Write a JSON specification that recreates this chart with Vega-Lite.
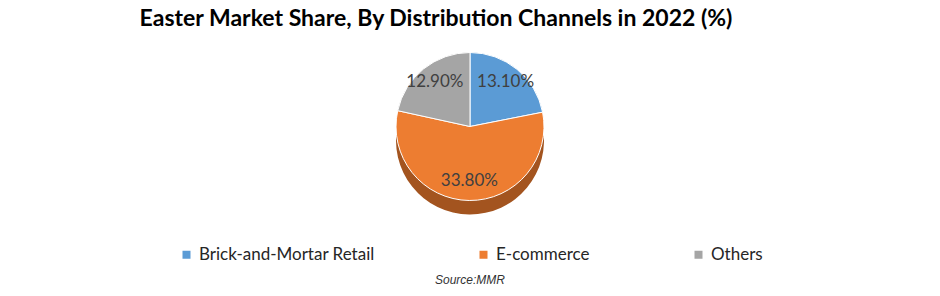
{
  "$schema": "https://vega.github.io/schema/vega-lite/v6.json",
  "width": 940,
  "height": 296,
  "autosize": {"type": "fit", "contains": "padding"},
  "padding": {"top": 8, "bottom": 10, "left": 0, "right": 0},
  "background": "white",
  "config": {
    "view": {"stroke": null},
    "legend": {"layout": {"bottom": {"anchor": "middle"}}}
  },
  "title": {
    "text": "Easter Market Share, By Distribution Channels in 2022 (%)",
    "font": "Lato",
    "fontSize": 23,
    "fontWeight": "bold",
    "color": "#000000",
    "anchor": "middle",
    "dx": -34,
    "offset": 14
  },
  "data": {
    "values": [
      {"channel": "Brick-and-Mortar Retail", "share": 13.1, "label": "13.10%", "ord": 1},
      {"channel": "E-commerce", "share": 33.8, "label": "33.80%", "ord": 2},
      {"channel": "Others", "share": 12.9, "label": "12.90%", "ord": 3}
    ]
  },
  "encoding": {
    "theta": {"field": "share", "type": "quantitative", "stack": true},
    "order": {"field": "ord", "type": "quantitative"}
  },
  "layer": [
    {
      "mark": {"type": "arc", "outerRadius": 74, "yOffset": 6, "stroke": null},
      "encoding": {
        "color": {
          "field": "channel",
          "type": "nominal",
          "scale": {"domain": ["Brick-and-Mortar Retail", "E-commerce", "Others"], "range": ["#3a6d9c", "#a3541f", "#757575"]},
          "legend": null
        }
      }
    },
    {
      "mark": {"type": "arc", "outerRadius": 74, "yOffset": -8, "stroke": "#ffffff", "strokeWidth": 1},
      "encoding": {
        "color": {
          "field": "channel",
          "type": "nominal",
          "scale": {"domain": ["Brick-and-Mortar Retail", "E-commerce", "Others"], "range": ["#5b9bd5", "#ed7d31", "#a5a5a5"]},
          "legend": {
            "orient": "bottom",
            "direction": "horizontal",
            "title": "Source:MMR",
            "titleOrient": "bottom",
            "titleAnchor": "middle",
            "titleFont": "Liberation Sans",
            "titleFontStyle": "italic",
            "titleFontWeight": "normal",
            "titleFontSize": 12,
            "titleColor": "#333333",
            "titlePadding": 12,
            "symbolType": "square",
            "symbolSize": 64,
            "symbolStrokeWidth": 0,
            "labelFont": "Lato",
            "labelFontSize": 17,
            "labelColor": "#262626",
            "labelLimit": 300,
            "columnPadding": 100,
            "offset": 22
          }
        }
      }
    },
    {
      "mark": {"type": "text", "radius": 56, "font": "Lato", "fontSize": 17, "color": "#404040", "yOffset": -9},
      "encoding": {"text": {"field": "label", "type": "nominal"}}
    }
  ],
  "resolve": {"scale": {"color": "independent"}}
}
